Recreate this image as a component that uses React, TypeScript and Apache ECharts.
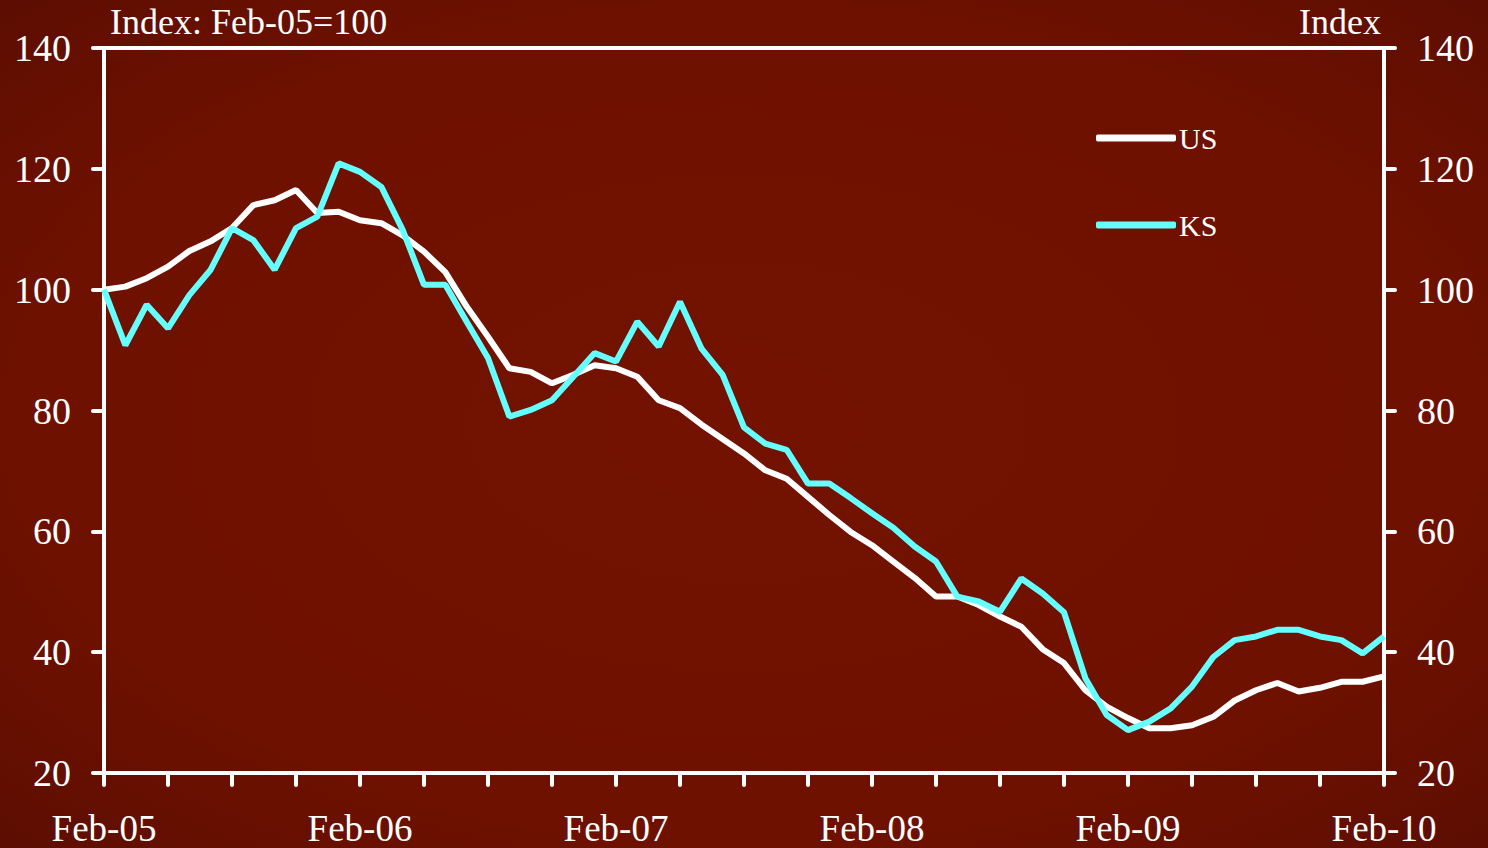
import React, { useEffect, useRef } from "react";
import * as echarts from "echarts";

// Monthly index values, Feb-05 = 100
const START_YEAR = 2005;
const START_MONTH = 1; // February (0-based)
const MONTH_NAMES = ["Jan", "Feb", "Mar", "Apr", "May", "Jun", "Jul", "Aug", "Sep", "Oct", "Nov", "Dec"];
const MONTH_COUNT = 61;

const US = [
  100, 100.5, 101.9, 103.8, 106.4, 108, 110.2, 114, 114.8, 116.5,
  112.7, 112.9, 111.5, 111, 109, 106.3, 102.9, 97.2, 92.2, 87,
  86.4, 84.5, 85.9, 87.5, 87, 85.6, 81.7, 80.4, 77.7, 75.3,
  72.9, 70.1, 68.7, 65.7, 62.7, 59.9, 57.7, 55, 52.3, 49.2,
  49.2, 47.8, 45.9, 44.2, 40.5, 38.2, 33.7, 31, 29.1, 27.4,
  27.4, 27.9, 29.3, 32, 33.7, 34.9, 33.5, 34.1, 35.1, 35.1,
  36,
];

const KS = [
  100, 90.8, 97.5, 93.6, 99.1, 103.3, 110.2, 108.2, 103.3, 110.2,
  112.1, 120.9, 119.5, 117, 109.9, 100.8, 100.8, 94.7, 88.7, 79,
  80.1, 81.7, 85.6, 89.5, 88.1, 94.7, 90.6, 98, 90.3, 85.9,
  77.2, 74.5, 73.5, 67.9, 67.9, 65.5, 63, 60.6, 57.5, 55,
  49.2, 48.4, 46.7, 52.2, 49.7, 46.6, 35.7, 29.6, 27.1, 28.5,
  30.7, 34.3, 39.2, 42, 42.6, 43.7, 43.7, 42.6, 42, 39.8,
  42.6,
];

const Y_MIN = 20;
const Y_MAX = 140;
const Y_STEP = 20;

const LEFT_TITLE = "Index: Feb-05=100";
const RIGHT_TITLE = "Index";

const FONT = "'Liberation Serif', 'Times New Roman', serif";
const WHITE = "#ffffff";
const CYAN = "#66ffff";

const categories: string[] = [];
for (let i = 0; i < MONTH_COUNT; i++) {
  const m = (START_MONTH + i) % 12;
  const y = START_YEAR + Math.floor((START_MONTH + i) / 12);
  categories.push(`${MONTH_NAMES[m]}-${String(y % 100).padStart(2, "0")}`);
}

export default function App() {
  const ref = useRef<HTMLDivElement | null>(null);

  useEffect(() => {
    if (!ref.current) return;
    const chart = echarts.init(ref.current, null, { renderer: "svg" });

    const yAxisBase = {
      type: "value" as const,
      min: Y_MIN,
      max: Y_MAX,
      interval: Y_STEP,
      splitLine: { show: false },
      axisLine: { show: true, lineStyle: { color: WHITE, width: 4 } },
      axisTick: { show: true, length: 11, lineStyle: { color: WHITE, width: 4, cap: "round" } },
      axisLabel: { color: WHITE, fontFamily: FONT, fontSize: 38, margin: 33 },
    };

    chart.setOption({
      animation: false,
      backgroundColor: {
        type: "radial",
        x: 0.5,
        y: 0.5,
        r: 0.8,
        colorStops: [
          { offset: 0, color: "#731200" },
          { offset: 0.6, color: "#6f1100" },
          { offset: 1, color: "#550c02" },
        ],
      },
      grid: { left: 104, right: 104, top: 48, bottom: 75, containLabel: false },
      legend: {
        orient: "vertical",
        left: 1091,
        top: 118,
        itemWidth: 80,
        itemHeight: 7,
        itemGap: 57,
        icon: "roundRect",
        textStyle: { color: WHITE, fontFamily: FONT, fontSize: 30, padding: [9, 0, 0, -2] },
        data: ["US", "KS"],
      },
      graphic: [
        {
          type: "text",
          left: 110,
          top: 4,
          style: { text: LEFT_TITLE, fill: WHITE, font: `36px ${FONT}` },
        },
        {
          type: "text",
          right: 107,
          top: 4,
          style: { text: RIGHT_TITLE, fill: WHITE, font: `36px ${FONT}` },
        },
      ],
      xAxis: [
        {
          type: "category",
          data: categories,
          boundaryGap: false,
          position: "bottom",
          axisLine: { show: true, lineStyle: { color: WHITE, width: 4 } },
          axisTick: {
            show: true,
            interval: 2,
            length: 12,
            lineStyle: { color: WHITE, width: 4, cap: "round" },
          },
          axisLabel: {
            interval: 11,
            color: WHITE,
            fontFamily: FONT,
            fontSize: 37,
            margin: 37,
            showMaxLabel: true,
          },
          splitLine: { show: false },
        },
        {
          type: "category",
          data: categories,
          boundaryGap: false,
          position: "top",
          axisLine: { show: true, lineStyle: { color: WHITE, width: 4 } },
          axisTick: { show: false },
          axisLabel: { show: false },
          splitLine: { show: false },
        },
      ],
      yAxis: [
        { ...yAxisBase, position: "left" },
        { ...yAxisBase, position: "right" },
      ],
      series: [
        {
          name: "US",
          type: "line",
          data: US,
          showSymbol: false,
          symbol: "none",
          lineStyle: { color: WHITE, width: 6 },
          itemStyle: { color: WHITE },
          z: 2,
        },
        {
          name: "KS",
          type: "line",
          data: KS,
          showSymbol: false,
          symbol: "none",
          lineStyle: { color: CYAN, width: 6 },
          itemStyle: { color: CYAN },
          z: 3,
        },
      ],
    });

    return () => chart.dispose();
  }, []);

  return (
    <div
      ref={ref}
      style={{ position: "absolute", left: 0, top: 0, width: 1488, height: 848 }}
    />
  );
}
